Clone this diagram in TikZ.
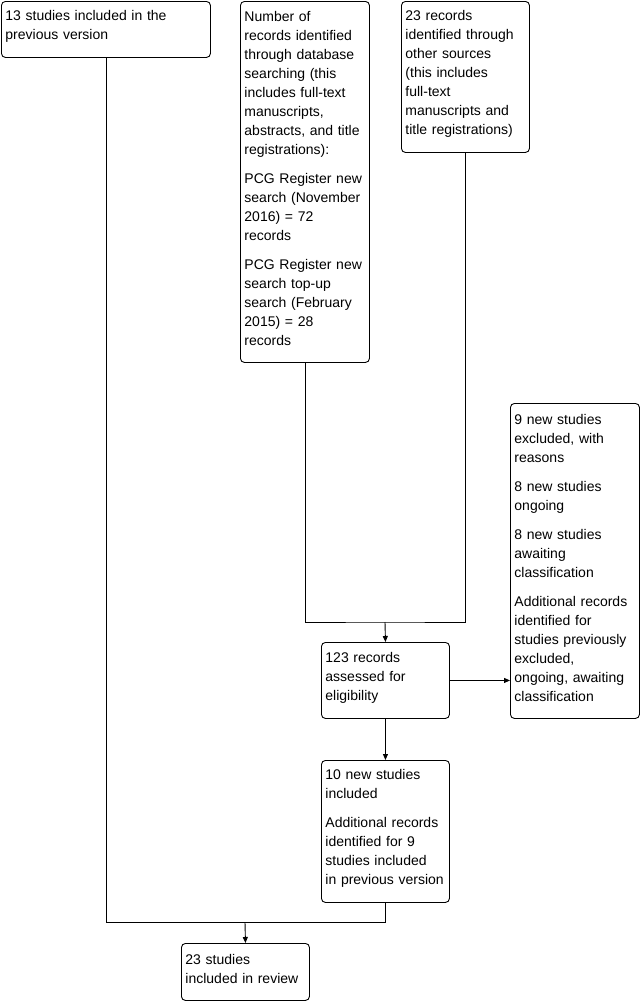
\documentclass[tikz,border=0pt]{standalone}
\usepackage{fontspec}
\setmainfont{Liberation Sans}
\usetikzlibrary{arrows.meta,positioning,calc}
\newcommand{\boxfont}{\fontsize{14pt}{19pt}\selectfont\hyphenpenalty=10000\relax}
\tikzset{
  box/.style={draw, rounded corners=4pt, anchor=north west, align=left, font=\boxfont, inner xsep=4pt, inner ysep=4pt,
    execute at end node={\par\vspace*{6pt}}},
  ln/.style={line width=0.9pt},
  arr/.style={ln, -{Triangle[length=6pt, width=5pt]}}}
\begin{document}
\begin{tikzpicture}[x=1pt, y=-1pt, line width=0.9pt]
  \useasboundingbox (0,0) rectangle (641,1001);
  % sources
  \node[box, text width=201pt, minimum height=56pt] (prev) at (1,1) {13 studies included in the\\previous version};
  \node[box, text width=121pt, minimum height=361pt] (dbsearch) at (240,1) {Number of\\records identified\\through database\\searching (this\\includes full-text\\manuscripts,\\abstracts, and title\\registrations):\\[10pt]PCG Register new\\search (November\\2016) = 72\\records\\[10pt]PCG Register new\\search top-up\\search (February\\2015) = 28\\records};
  \node[box, text width=120pt, minimum height=151pt] (other) at (401,1) {23 records\\identified through\\other sources\\(this includes\\full-text\\manuscripts and\\title registrations)};
  % screening
  \node[box, text width=120pt, minimum height=76pt] (assess) at (321,642) {123 records\\assessed for\\eligibility};
  \node[box, text width=121pt, minimum height=315pt] (excl) at (510,403) {9 new studies\\excluded, with\\reasons\\[10pt]8 new studies\\ongoing\\[10pt]8 new studies\\awaiting\\classification\\[10pt]Additional records\\identified for\\studies previously\\excluded,\\ongoing, awaiting\\classification};
  \node[box, text width=120pt, minimum height=142pt] (newinc) at (321,760) {10 new studies\\included\\[10pt]Additional records\\identified for 9\\studies included\\in previous version};
  \node[box, text width=120pt, minimum height=57pt] (review) at (181,943) {23 studies\\included in review};
  % connectors
  \coordinate (jtop) at (385,622);
  \coordinate (jbot) at (245,922);
  \draw[ln] (dbsearch.south) |- (jtop) -| (other.south);
  \draw[arr] (jtop) -- (assess.north);
  \draw[arr] (assess.east) -- (assess.east -| excl.west);
  \draw[arr] (assess.south) -- (newinc.north);
  \draw[ln] (prev.south) |- (jbot) -| (newinc.south);
  \draw[arr] (jbot) -- (review.north);
\end{tikzpicture}
\end{document}
